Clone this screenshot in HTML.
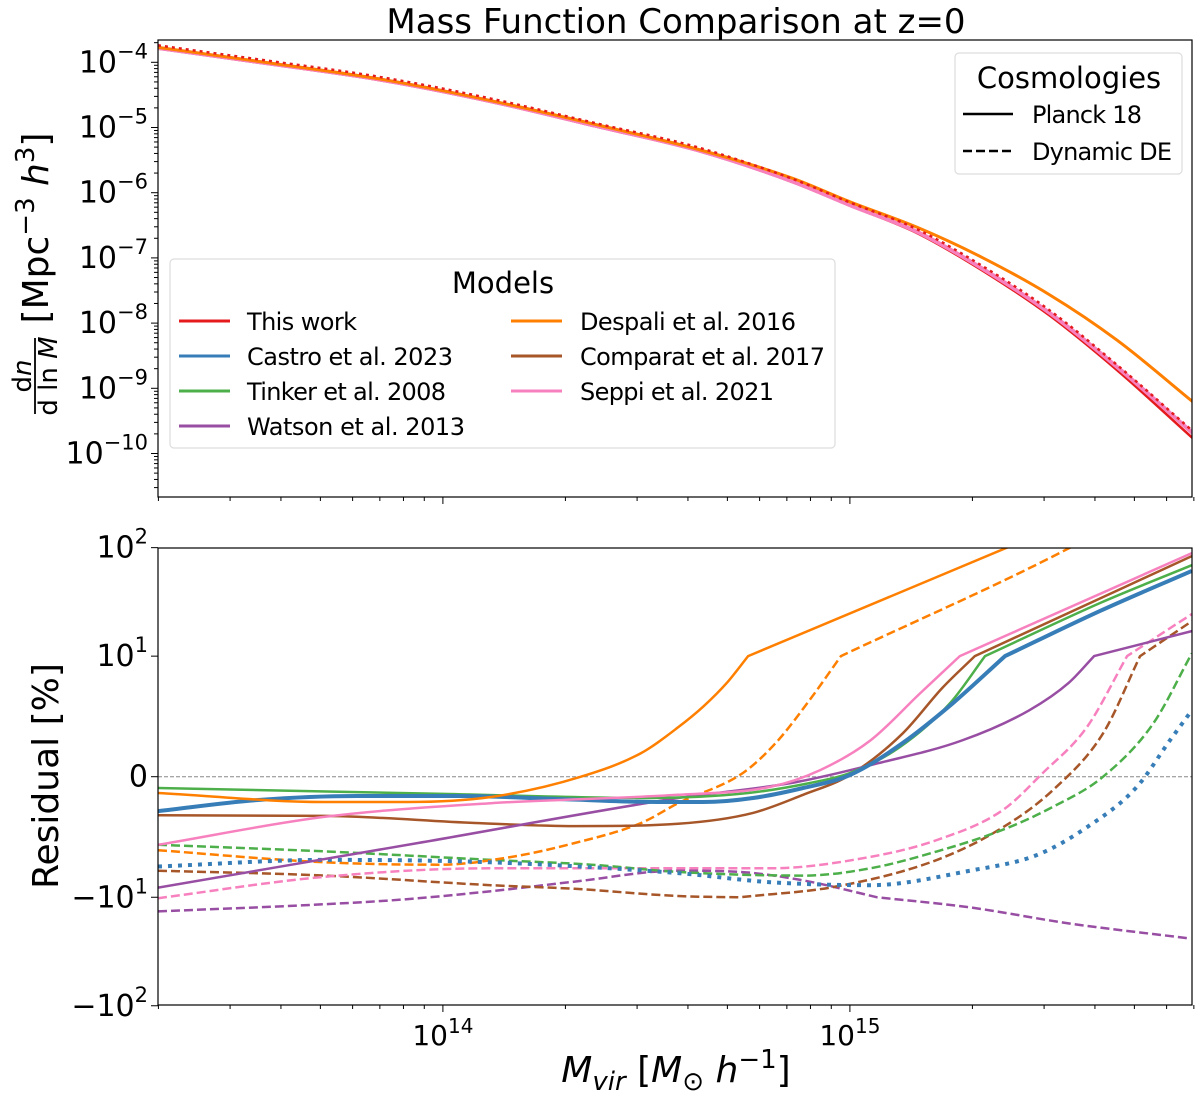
<!DOCTYPE html>
<html><head><meta charset="utf-8"><style>
html,body{margin:0;padding:0;background:#fff}
svg{display:block}
text{font-family:"DejaVu Sans","Liberation Sans",sans-serif;fill:#000}
</style></head><body>
<svg id="chart" width="1200" height="1096" viewBox="0 0 1200 1096" xmlns="http://www.w3.org/2000/svg">
<defs>
<clipPath id="clipTop"><rect x="158" y="40" width="1034" height="457"/></clipPath>
<clipPath id="clipBot"><rect x="158" y="548" width="1034" height="457"/></clipPath>
</defs>
<text x="676" y="33" font-size="34" text-anchor="middle">Mass Function Comparison at z=0</text>
<g id="topTicks"></g>
<g id="botTicks"></g>
<g id="topLines" clip-path="url(#clipTop)"></g>
<g id="botLines" clip-path="url(#clipBot)"></g>
<rect x="158" y="40" width="1034" height="457" fill="none" stroke="#000" stroke-width="1.2"/>
<rect x="158" y="548" width="1034" height="457" fill="none" stroke="#000" stroke-width="1.2"/>

<text transform="translate(58,776) rotate(-90)" font-size="36" text-anchor="middle">Residual [%]</text>
<g>
<text transform="translate(31,376) rotate(-90)" font-size="26" text-anchor="middle">d<tspan font-style="italic">n</tspan></text>
<line x1="35" y1="338" x2="35" y2="414" stroke="#000" stroke-width="1.8"/>
<text transform="translate(57,376) rotate(-90)" font-size="26" text-anchor="middle">d ln <tspan font-style="italic">M</tspan></text>
<text transform="translate(48,228) rotate(-90)" font-size="36" text-anchor="middle">[Mpc<tspan dy="-14" font-size="26">−3</tspan><tspan dy="14"> </tspan><tspan font-style="italic">h</tspan><tspan dy="-14" font-size="26">3</tspan><tspan dy="14">]</tspan></text>
</g>
<text x="676" y="1082" font-size="36" text-anchor="middle"><tspan font-style="italic">M</tspan><tspan font-style="italic" font-size="26" dy="8">vir</tspan><tspan dy="-8"> [</tspan><tspan font-style="italic">M</tspan><tspan font-size="26" dy="8">⊙</tspan><tspan dy="-8"> </tspan><tspan font-style="italic">h</tspan><tspan font-size="26" dy="-14">−1</tspan><tspan dy="14">]</tspan></text>

<g>
<rect x="170" y="259" width="665" height="189" rx="4" fill="#fff" fill-opacity="0.8" stroke="#ddd" stroke-width="1.2"/>
<text x="503" y="293" font-size="29" text-anchor="middle">Models</text>
<g id="modelsLegend"></g>
</g>
<g>
<rect x="955" y="53" width="227" height="121" rx="4" fill="#fff" fill-opacity="0.8" stroke="#ddd" stroke-width="1.2"/>
<text x="1069" y="88" font-size="29" text-anchor="middle">Cosmologies</text>
<line x1="963" y1="114" x2="1013" y2="114" stroke="#000" stroke-width="2.5"/>
<text x="1032" y="123" font-size="24" textLength="110">Planck 18</text>
<line x1="963" y1="151" x2="1013" y2="151" stroke="#000" stroke-width="2.5" stroke-dasharray="9,4"/>
<text x="1032" y="160" font-size="24" textLength="140">Dynamic DE</text>
</g>
</svg>
<script>
// ===== data =====
const modelNames = ["This work","Castro et al. 2023","Tinker et al. 2008","Watson et al. 2013","Despali et al. 2016","Comparat et al. 2017","Seppi et al. 2021"];
const modelColors = ["#e41a1c","#377eb8","#4daf4a","#984ea3","#ff7f00","#a65628","#f781bf"];
// top panel: log10(M) and log10(dn/dlnM)
const topLogM = [13.30, 13.575, 13.85, 14.12, 14.386, 14.624, 14.86, 15.0, 15.165, 15.327, 15.492, 15.656, 15.843];
const hmfThisWork = [-3.79, -4.03, -4.28, -4.61, -5.00, -5.355, -5.84, -6.20, -6.62, -7.20, -7.89, -8.72, -9.77];
const hmfBand     = [-3.78, -4.02, -4.27, -4.60, -4.99, -5.345, -5.83, -6.19, -6.60, -7.17, -7.85, -8.67, -9.69];
const hmfDespali  = [-3.77, -4.01, -4.26, -4.59, -4.97, -5.33, -5.78, -6.14, -6.53, -7.00, -7.57, -8.26, -9.21];
const hmfThisWorkDDE = [-3.74, -3.98, -4.23, -4.56, -4.95, -5.30, -5.79, -6.15, -6.56, -7.13, -7.81, -8.64, -9.66];
// bottom panel residuals [%] (Planck 18, solid)
const resCastroM = [13.3,13.546,13.791,14.037,14.283,14.528,14.639,14.762,14.885,15.0,15.13,15.253,15.381,15.614,15.84];
const resCastro  = [-2.85,-1.93,-1.6,-1.6,-1.85,-2.1,-2.1,-1.77,-0.94,0.14,2.8,6.1,10,26,61];
const resTinkerM = [13.3,14.0,14.499,14.75,14.902,15.0,15.123,15.246,15.332,15.614,15.84];
const resTinker  = [-0.94,-1.43,-1.77,-1.35,-0.52,0.31,2.46,6.1,10,30.8,68.9];
const resWatsonM = [13.3,13.939,14.578,14.868,15.071,15.275,15.44,15.538,15.6,15.84];
const resWatson  = [-9.2,-5.5,-1.77,-0.45,1.13,3.0,5.5,7.8,10,17];
const resDespaliM = [13.3,13.71,13.914,14.118,14.339,14.487,14.578,14.639,14.698,14.75,15.386,15.84];
const resDespali  = [-1.35,-2.1,-2.1,-1.68,0,1.96,4.1,5.8,7.8,10,100,518];
const resComparatM = [13.3,13.71,14.079,14.324,14.578,14.762,14.885,15.0,15.13,15.228,15.307,15.84];
const resComparat  = [-3.2,-3.25,-3.84,-4.1,-3.9,-3.0,-1.5,0.14,3.6,7.4,10,83.5];
const resSeppiM = [13.3,13.71,14.118,14.578,14.804,14.927,15.05,15.172,15.27,15.84];
const resSeppi  = [-5.65,-3.33,-2.2,-1.5,-0.85,0.55,3.0,6.9,10,89];
// residuals (Dynamic DE, dashed)
const resCastroDDEM = [13.3,13.71,14.118,14.578,14.804,15.05,15.295,15.459,15.582,15.705,15.786,15.84];
const resCastroDDE  = [-7.45,-6.9,-7.1,-8.0,-8.75,-9.0,-7.8,-6.5,-4.2,-0.85,3.0,5.5];
const resTinkerDDEM = [13.3,13.71,14.118,14.364,14.578,14.885,15.05,15.214,15.376,15.499,15.622,15.745,15.84];
const resTinkerDDE  = [-5.65,-6.2,-6.9,-7.3,-7.9,-8.2,-7.6,-6.2,-4.4,-2.5,0,4.4,10.6];
const resWatsonDDEM = [13.3,13.71,13.914,14.118,14.324,14.578,14.73,14.885,15.067,15.295,15.541,15.836];
const resWatsonDDE  = [-13.5,-11.6,-10.4,-9.5,-8.7,-7.8,-7.9,-8.6,-10,-12.4,-17.5,-24];
const resDespaliDDEM = [13.3,13.71,13.995,14.16,14.324,14.487,14.578,14.737,14.818,14.902,14.978,15.541,15.84];
const resDespaliDDE  = [-6.1,-7.1,-7.3,-6.7,-5.5,-3.84,-2.2,0.31,2.8,6.4,10,100,430];
const resComparatDDEM = [13.3,13.71,14.118,14.324,14.578,14.73,14.968,15.214,15.376,15.499,15.622,15.713,15.84];
const resComparatDDE  = [-7.8,-8.2,-9.0,-9.3,-9.9,-10,-9.1,-6.9,-4.2,-1.1,3.6,10,21];
const resSeppiDDEM = [13.3,13.71,14.118,14.578,14.804,15.05,15.214,15.376,15.474,15.582,15.681,15.84];
const resSeppiDDE  = [-10.2,-8.3,-7.6,-7.6,-7.6,-6.65,-5.25,-2.76,0.31,4.1,10,24.4];
const topYTicks = [-4,-5,-6,-7,-8,-9,-10];
const botYTicks = [100,10,0,-10,-100];
const botYLabels = ["10","10","0","−10","−10"];
const botYExps = ["2","1","","1","2"];
const xTickDecades = [14,15];

// ===== scales =====
const NS="http://www.w3.org/2000/svg";
function xs(lm){return 158+(lm-13.3)*407;}
function yt(l){return 62.3+(-4-l)*65.2;}
function yb(v){const a=Math.abs(v);const s=a<=10?a/10*1.1111:1.1111+Math.log10(a/10);return 776.7-Math.sign(v)*s*108.5;}
function mk(tag,attrs,parent){const e=document.createElementNS(NS,tag);for(const k in attrs)e.setAttribute(k,attrs[k]);parent.appendChild(e);return e;}
// monotone cubic (Fritsch-Carlson) through pixel points
function smoothSeg(P,first){
  const n=P.length;let p=first?"M"+P[0][0].toFixed(1)+","+P[0][1].toFixed(1):"";
  if(n<2)return p;
  const d=[],m=new Array(n);
  for(let i=0;i<n-1;i++)d.push((P[i+1][1]-P[i][1])/(P[i+1][0]-P[i][0]));
  m[0]=d[0];m[n-1]=d[n-2];
  for(let i=1;i<n-1;i++)m[i]=(d[i-1]*d[i]<=0)?0:(d[i-1]+d[i])/2;
  for(let i=0;i<n-1;i++){
    if(d[i]===0){m[i]=0;m[i+1]=0;continue;}
    const a=m[i]/d[i],b=m[i+1]/d[i],s=a*a+b*b;
    if(s>9){const t=3/Math.sqrt(s);m[i]=t*a*d[i];m[i+1]=t*b*d[i];}
  }
  for(let i=0;i<n-1;i++){
    const h=P[i+1][0]-P[i][0];
    p+=" C"+(P[i][0]+h/3).toFixed(1)+","+(P[i][1]+m[i]*h/3).toFixed(1)+" "+(P[i+1][0]-h/3).toFixed(1)+","+(P[i+1][1]-m[i+1]*h/3).toFixed(1)+" "+P[i+1][0].toFixed(1)+","+P[i+1][1].toFixed(1);
  }
  return p;
}
// split at symlog threshold points (|v|==10) so the kinks stay sharp
function buildPath(P,vals,splitAtThresh){
  const segs=[];let cur=[P[0]];
  for(let i=1;i<P.length;i++){cur.push(P[i]);if(splitAtThresh&&Math.abs(vals[i])===10&&i<P.length-1){segs.push(cur);cur=[P[i]];}}
  segs.push(cur);
  return segs.map((s,k)=>smoothSeg(s,k===0)).join(" ");
}
function poly(parent,xsArr,ysArr,yfn,color,w,dash,name,split){
  const P=xsArr.map((m,i)=>[xs(m),yfn(ysArr[i])]);
  const p=mk("path",{d:buildPath(P,ysArr,split),fill:"none",stroke:color,"stroke-width":w,"stroke-linejoin":"round"},parent);
  if(dash)p.setAttribute("stroke-dasharray",dash);
  
  
}
// ===== top panel =====
const tl=document.getElementById("topLines");
poly(tl,topLogM,hmfThisWork,yt,modelColors[0],2.5,null,"line-this-work-planck",false);
poly(tl,topLogM,hmfBand,yt,modelColors[3],2.5,null,"line-watson-planck",false);
poly(tl,topLogM,hmfBand,yt,modelColors[1],2.5,null,"line-castro-planck",false);
poly(tl,topLogM,hmfBand,yt,modelColors[2],2.5,null,"line-tinker-planck",false);
poly(tl,topLogM,hmfBand,yt,modelColors[5],2.5,null,"line-comparat-planck",false);
poly(tl,topLogM,hmfBand,yt,modelColors[6],4,null,"line-seppi-planck",false);
poly(tl,topLogM,hmfDespali,yt,modelColors[4],3,null,"line-despali-planck",false);
poly(tl,topLogM,hmfThisWorkDDE,yt,modelColors[0],2.5,"3,4","line-this-work-dde",false);
// ===== bottom panel =====
const bl=document.getElementById("botLines");
const zl=mk("line",{x1:158,x2:1192,y1:yb(0),y2:yb(0),stroke:"#888","stroke-width":1,"stroke-dasharray":"4,2"},bl);


poly(bl,resWatsonDDEM,resWatsonDDE,yb,modelColors[3],2.5,"9,4","residual-watson-dde",true);
poly(bl,resComparatDDEM,resComparatDDE,yb,modelColors[5],2.5,"9,4","residual-comparat-dde",true);
poly(bl,resSeppiDDEM,resSeppiDDE,yb,modelColors[6],2.5,"9,4","residual-seppi-dde",true);
poly(bl,resTinkerDDEM,resTinkerDDE,yb,modelColors[2],2.5,"9,4","residual-tinker-dde",true);
poly(bl,resDespaliDDEM,resDespaliDDE,yb,modelColors[4],2.5,"9,4","residual-despali-dde",true);
poly(bl,resCastroDDEM,resCastroDDE,yb,modelColors[1],4,"4,6","residual-castro-dde",true);
poly(bl,resComparatM,resComparat,yb,modelColors[5],2.5,null,"residual-comparat-planck",true);
poly(bl,resWatsonM,resWatson,yb,modelColors[3],2.5,null,"residual-watson-planck",true);
poly(bl,resTinkerM,resTinker,yb,modelColors[2],2.5,null,"residual-tinker-planck",true);
poly(bl,resCastroM,resCastro,yb,modelColors[1],4,null,"residual-castro-planck",true);
poly(bl,resSeppiM,resSeppi,yb,modelColors[6],2.5,null,"residual-seppi-planck",true);
poly(bl,resDespaliM,resDespali,yb,modelColors[4],2.5,null,"residual-despali-planck",true);
// ===== ticks =====
const tt=document.getElementById("topTicks"), bt=document.getElementById("botTicks");
for(let d=13;d<=15;d++){for(let k=1;k<=9;k++){const lm=d+Math.log10(k);if(lm<13.3||lm>15.85)continue;const x=xs(lm);const len=k===1?7:4;
  const a=mk("line",{x1:x,x2:x,y1:497,y2:497+len,stroke:"#000","stroke-width":1},tt);
  
  
  const b=mk("line",{x1:x,x2:x,y1:1005,y2:1005+len,stroke:"#000","stroke-width":1},bt);
  
  }}
xTickDecades.forEach(d=>{const t=mk("text",{x:xs(d),y:1045,"font-size":28,"text-anchor":"middle"},bt);t.innerHTML="10<tspan dy='-12' font-size='20'>"+d+"</tspan>";
  
  });
for(let d=-11;d<=-4;d++){for(let k=1;k<=9;k++){const l=d+Math.log10(k);const y=yt(l);if(y<40||y>497)continue;
  const a=mk("line",{x1:158,x2:158-(k===1?7:4),y1:y,y2:y,stroke:"#000","stroke-width":1},tt);
  
  }}
topYTicks.forEach(l=>{const t=mk("text",{x:148,y:yt(l)+10,"font-size":30,"text-anchor":"end"},tt);t.innerHTML="10<tspan dy='-14' font-size='21'>−"+(-l)+"</tspan>";
  
  });
botYTicks.forEach((v,i)=>{const y=yb(v);const a=mk("line",{x1:158,x2:151,y1:y,y2:y,stroke:"#000","stroke-width":1},bt);
  
  
  const t=mk("text",{x:148,y:y+10,"font-size":30,"text-anchor":"end"},bt);
  t.innerHTML=botYLabels[i]+(botYExps[i]?"<tspan dy='-14' font-size='21'>"+botYExps[i]+"</tspan>":"");
  
  });
// ===== models legend =====
const ml=document.getElementById("modelsLegend");
const legendWidths=[110,206,199,218,216,245,194];
modelNames.forEach((n,i)=>{const col=i<4?0:1;const row=i<4?i:i-4;const hx=col?511:179;const tx=col?580:247;const y=321+row*35;
  const h=mk("line",{x1:hx,x2:hx+51,y1:y,y2:y,stroke:modelColors[i],"stroke-width":3},ml);
  
  
  const t=mk("text",{x:tx,y:y+9,"font-size":24,textLength:legendWidths[i]},ml);t.textContent=n;
  
  });
</script>
</body></html>
